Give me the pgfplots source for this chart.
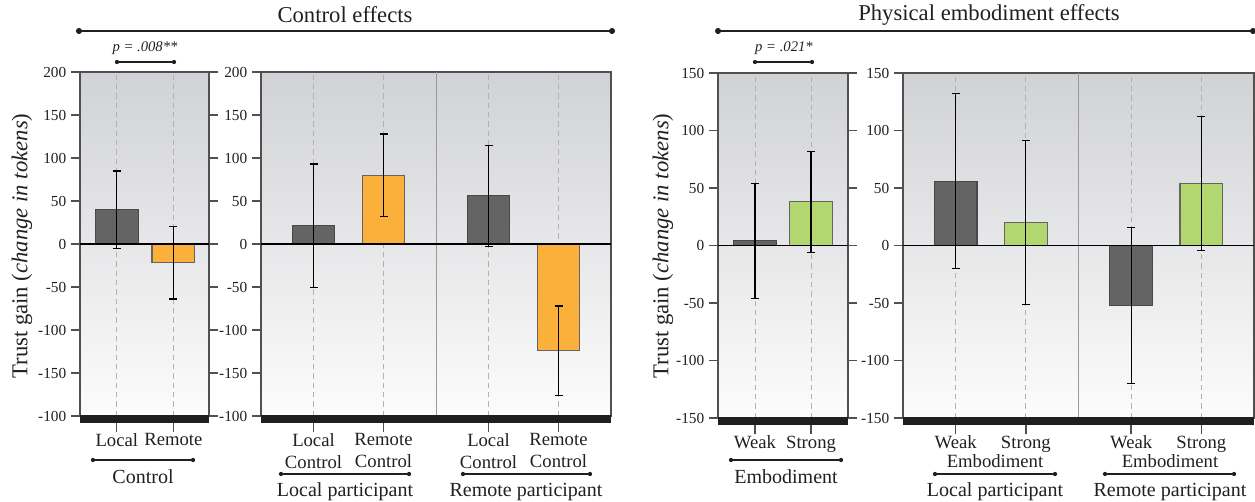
\documentclass[border=0pt]{standalone}
\usepackage{fontspec}
\setmainfont{Liberation Serif}
\usepackage{pgfplots}
\pgfplotsset{compat=1.18}
\definecolor{bgtop}{RGB}{209,210,213}
\definecolor{bgmid}{RGB}{234,235,236}
\definecolor{bgbot}{RGB}{252,252,252}
\definecolor{dgray}{RGB}{100,100,100}
\definecolor{dgrayb}{RGB}{72,72,72}
\definecolor{orng}{RGB}{251,176,59}
\definecolor{grn}{RGB}{178,214,112}
\definecolor{framec}{RGB}{80,80,80}
\definecolor{textc}{RGB}{35,31,32}
\pgfplotsset{
  panel/.style={
    scale only axis, anchor=south west, clip=false,
    axis background/.style={top color=bgtop, middle color=bgmid, bottom color=bgbot},
    axis line style={draw=framec, line width=1.1pt},
    tick align=outside,
    major tick length=6.75pt,
    ytick style={draw=framec, line width=1pt},
    xtick style={draw=none},
    xmajorgrids,
    major grid style={draw=gray!60, line width=0.6pt, dash pattern=on 4pt off 3pt},
    yticklabel style={font=\fontsize{11.5}{13}\selectfont, text=textc},
    xticklabel style={font=\fontsize{14}{16.5}\selectfont, text=textc, align=center, yshift=-3pt},
  },
  mybar/.style={ybar, bar shift=0pt, bar width=32pt, line width=0.8pt,
    error bars/y dir=both, error bars/y explicit,
    error bars/error bar style={line width=0.9pt, black},
    error bars/error mark options={rotate=90, mark size=3pt, line width=0.9pt, black}},
}
\begin{document}
\begin{tikzpicture}
\path[use as bounding box] (0,0) rectangle (941.25pt,-375.75pt);

% Panel 1: Control
\begin{axis}[panel, at={(60pt,-312pt)}, width=96.75pt, height=258pt,
  xmin=-0.65, xmax=1.63, ymin=-200, ymax=200,
  xtick={0,1}, xticklabels={Local,Remote},
  ytick={-200,-150,-100,-50,0,50,100,150,200},
  yticklabels={-100,-150,-100,-50,0,50,100,150,200},
  ytick pos=both, yticklabel pos=left]
\addplot[mybar, fill=dgray, draw=dgrayb] coordinates {(0,40) +- (0,45)};
\addplot[mybar, fill=orng, draw=dgray] coordinates {(1,-22) +- (0,42)};
\draw[black, line width=1pt] (rel axis cs:0,0.5) -- (rel axis cs:1,0.5);
\draw[framec, line width=1pt] (axis cs:0,-200) -- ++(0pt,-12pt);
\draw[framec, line width=1pt] (axis cs:1,-200) -- ++(0pt,-12pt);
\fill[black!88] ([yshift=0.5pt]rel axis cs:0,0) rectangle ([yshift=-5pt]rel axis cs:1,0);
\end{axis}

% Panel 2: Control by participant
\begin{axis}[panel, at={(195.75pt,-312pt)}, width=262.5pt, height=258pt,
  xmin=-0.75, xmax=4.25, ymin=-200, ymax=200,
  xtick={0,1,2.5,3.5},
  xticklabels={{Local\\Control},{Remote\\Control},{Local\\Control},{Remote\\Control}},
  ytick={-200,-150,-100,-50,0,50,100,150,200},
  yticklabels={-100,-150,-100,-50,0,50,100,150,200},
  ytick pos=left]
\draw[gray!80, line width=0.7pt] (axis cs:1.75,-200) -- (axis cs:1.75,200);
\addplot[mybar, fill=dgray, draw=dgrayb] coordinates {(0,21) +- (0,72)};
\addplot[mybar, fill=orng, draw=dgray] coordinates {(1,80) +- (0,48)};
\addplot[mybar, fill=dgray, draw=dgrayb] coordinates {(2.5,56) +- (0,59)};
\addplot[mybar, fill=orng, draw=dgray] coordinates {(3.5,-124) +- (0,52)};
\draw[black, line width=1pt] (rel axis cs:0,0.5) -- (rel axis cs:1,0.5);
\draw[framec, line width=1pt] (axis cs:0,-200) -- ++(0pt,-12pt);
\draw[framec, line width=1pt] (axis cs:1,-200) -- ++(0pt,-12pt);
\draw[framec, line width=1pt] (axis cs:2.5,-200) -- ++(0pt,-12pt);
\draw[framec, line width=1pt] (axis cs:3.5,-200) -- ++(0pt,-12pt);
\fill[black!88] ([yshift=0.5pt]rel axis cs:0,0) rectangle ([yshift=-5pt]rel axis cs:1,0);
\end{axis}

% Panel 3: Embodiment
\begin{axis}[panel, at={(538.5pt,-313.5pt)}, width=97.5pt, height=258.75pt,
  xmin=-0.66, xmax=1.66, ymin=-150, ymax=150,
  xtick={0,1}, xticklabels={Weak,Strong},
  ytick={-150,-100,-50,0,50,100,150},
  yticklabels={-150,-100,-50,0,50,100,150},
  ytick pos=both, yticklabel pos=left]
\addplot[mybar, fill=dgray, draw=dgrayb] coordinates {(0,4) +- (0,50)};
\addplot[mybar, fill=grn, draw=dgray] coordinates {(1,38) +- (0,44)};
\draw[black, line width=1pt] (rel axis cs:0,0.5) -- (rel axis cs:1,0.5);
\draw[framec, line width=1pt] (axis cs:0,-150) -- ++(0pt,-12pt);
\draw[framec, line width=1pt] (axis cs:1,-150) -- ++(0pt,-12pt);
\fill[black!88] ([yshift=0.5pt]rel axis cs:0,0) rectangle ([yshift=-5pt]rel axis cs:1,0);
\end{axis}

% Panel 4: Embodiment by participant
\begin{axis}[panel, at={(677.25pt,-313.5pt)}, width=263.25pt, height=258.75pt,
  xmin=-0.75, xmax=4.25, ymin=-150, ymax=150,
  xtick={0,1,2.5,3.5},
  xticklabels={Weak,Strong,Weak,Strong},
  ytick={-150,-100,-50,0,50,100,150},
  yticklabels={-150,-100,-50,0,50,100,150},
  ytick pos=left]
\draw[gray!80, line width=0.7pt] (axis cs:1.75,-150) -- (axis cs:1.75,150);
\addplot[mybar, fill=dgray, draw=dgrayb] coordinates {(0,56) +- (0,76)};
\addplot[mybar, fill=grn, draw=dgray] coordinates {(1,20) +- (0,71)};
\addplot[mybar, fill=dgray, draw=dgrayb] coordinates {(2.5,-52) +- (0,68)};
\addplot[mybar, fill=grn, draw=dgray] coordinates {(3.5,54) +- (0,58)};
\draw[black, line width=1pt] (rel axis cs:0,0.5) -- (rel axis cs:1,0.5);
\draw[framec, line width=1pt] (axis cs:0,-150) -- ++(0pt,-12pt);
\draw[framec, line width=1pt] (axis cs:1,-150) -- ++(0pt,-12pt);
\draw[framec, line width=1pt] (axis cs:2.5,-150) -- ++(0pt,-12pt);
\draw[framec, line width=1pt] (axis cs:3.5,-150) -- ++(0pt,-12pt);
\fill[black!88] ([yshift=0.5pt]rel axis cs:0,0) rectangle ([yshift=-5pt]rel axis cs:1,0);
\end{axis}

% Annotations (pixel coordinates, y downward)
\begin{scope}[x=0.75pt,y=-0.75pt, every node/.style={text=textc}]
  % titles
  \node[font=\fontsize{17}{20}\selectfont] at (345,15) {Control effects};
  \draw[textc, line width=0.9pt] (79,31) -- (612,31);
  \fill[textc] (79,31) circle (2.3pt); \fill[textc] (612,31) circle (2.3pt);
  \node[font=\fontsize{17}{20}\selectfont] at (989,15) {Physical embodiment effects};
  \draw[textc, line width=0.9pt] (718,31) -- (1253,31);
  \fill[textc] (718,31) circle (2.3pt); \fill[textc] (1253,31) circle (2.3pt);
  % p values
  \node[font=\fontsize{11}{13}\selectfont\itshape] at (145,48) {p = .008**};
  \draw[textc, line width=0.8pt] (117,62) -- (174,62);
  \fill[textc] (117,62) circle (1.6pt); \fill[textc] (174,62) circle (1.6pt);
  \node[font=\fontsize{11}{13}\selectfont\itshape] at (784,48) {p = .021*};
  \draw[textc, line width=0.8pt] (755,62) -- (812,62);
  \fill[textc] (755,62) circle (1.6pt); \fill[textc] (812,62) circle (1.6pt);
  % y labels
  \node[rotate=90, font=\fontsize{17}{20}\selectfont] at (22,246) {Trust gain (\textit{change in tokens})};
  \node[rotate=90, font=\fontsize{17}{20}\selectfont] at (663,246) {Trust gain (\textit{change in tokens})};
  % group labels left
  \draw[textc, line width=0.8pt] (93,460) -- (193,460);
  \fill[textc] (93,460) circle (1.6pt); \fill[textc] (193,460) circle (1.6pt);
  \node[font=\fontsize{15}{18}\selectfont] at (143,477) {Control};
  \draw[textc, line width=0.8pt] (281,474) -- (409,474);
  \fill[textc] (281,474) circle (1.6pt); \fill[textc] (409,474) circle (1.6pt);
  \node[font=\fontsize{15}{18}\selectfont] at (345,492) {Local participant};
  \draw[textc, line width=0.8pt] (463,474) -- (590,474);
  \fill[textc] (463,474) circle (1.6pt); \fill[textc] (590,474) circle (1.6pt);
  \node[font=\fontsize{15}{18}\selectfont] at (526,492) {Remote participant};
  % group labels right
  \draw[textc, line width=0.8pt] (731,460) -- (841,460);
  \fill[textc] (731,460) circle (1.6pt); \fill[textc] (841,460) circle (1.6pt);
  \node[font=\fontsize{15}{18}\selectfont] at (786,477) {Embodiment};
  \node[font=\fontsize{14}{16}\selectfont] at (995,461) {Embodiment};
  \node[font=\fontsize{14}{16}\selectfont] at (1170,461) {Embodiment};
  \draw[textc, line width=0.8pt] (935,474) -- (1055,474);
  \fill[textc] (935,474) circle (1.6pt); \fill[textc] (1055,474) circle (1.6pt);
  \draw[textc, line width=0.8pt] (1105,474) -- (1234,474);
  \fill[textc] (1105,474) circle (1.6pt); \fill[textc] (1234,474) circle (1.6pt);
  \node[font=\fontsize{15}{18}\selectfont] at (995,492) {Local participant};
  \node[font=\fontsize{15}{18}\selectfont] at (1170,492) {Remote participant};
\end{scope}
\end{tikzpicture}
\end{document}
